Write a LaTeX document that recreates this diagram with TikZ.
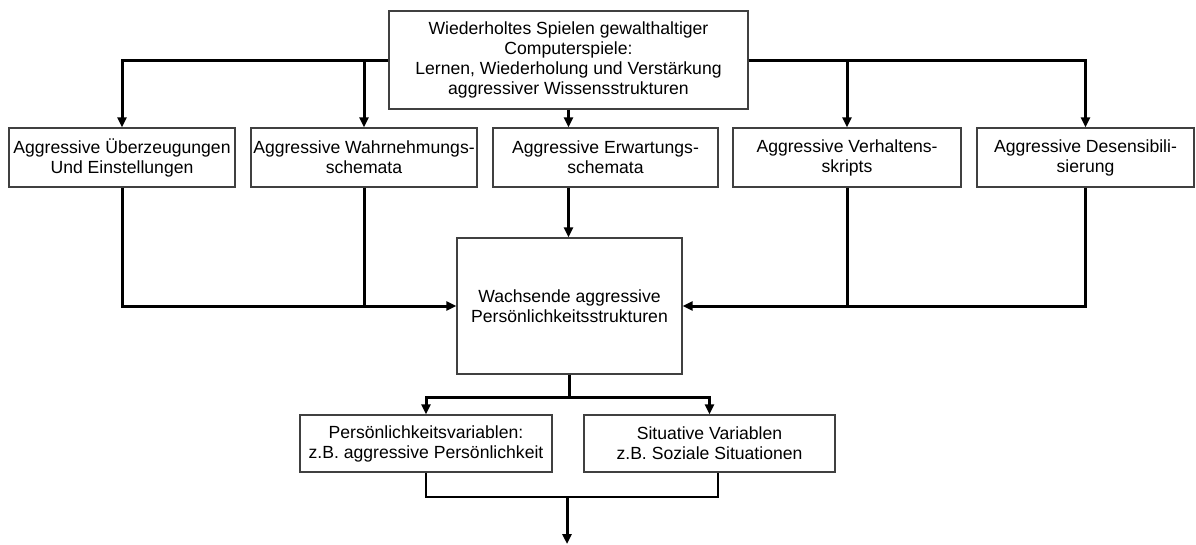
\documentclass[tikz,border=0pt]{standalone}
\usepackage{fontspec}
\setmainfont{Liberation Sans}
\usetikzlibrary{arrows.meta}
\begin{document}
\begin{tikzpicture}[x=1pt,y=-1pt,
  box/.style={draw=black!75, line width=1.2pt, align=center, inner sep=0pt,
    font=\fontsize{17.6}{20}\selectfont, anchor=center},
  conn/.style={line width=3pt},
  arr/.style={conn, -{Triangle[length=10pt,width=9pt]}},
  thinconn/.style={line width=1.2pt}]
\useasboundingbox (0,0) rectangle (1196,544);
\fill[white] (0,0) rectangle (1196,544);

\node[box, minimum width=359pt, minimum height=98pt] (top) at (568.5,60)
  {Wiederholtes Spielen gewalthaltiger\\Computerspiele:\\Lernen, Wiederholung und Verstärkung\\aggressiver Wissensstrukturen};

\node[box, minimum width=226pt, minimum height=59pt] (r1) at (122,157.5)
  {Aggressive Überzeugungen\\Und Einstellungen};
\node[box, minimum width=226pt, minimum height=59pt] (r2) at (364,157.5)
  {Aggressive Wahrnehmungs-\\schemata};
\node[box, minimum width=225pt, minimum height=59pt] (r3) at (605.5,157.5)
  {Aggressive Erwartungs-\\schemata};
\node[box, minimum width=228pt, minimum height=59pt] (r4) at (847,157.5)
  {Aggressive Verhaltens-\\skripts};
\node[box, minimum width=217pt, minimum height=59pt] (r5) at (1085.5,157.5)
  {Aggressive Desensibili-\\sierung};

\node[box, minimum width=225pt, minimum height=136pt] (mid) at (569.5,306)
  {Wachsende aggressive\\Persönlichkeitsstrukturen};

\node[box, minimum width=252pt, minimum height=57pt] (pa) at (426,443.5)
  {Persönlichkeitsvariablen:\\z.B. aggressive Persönlichkeit};
\node[box, minimum width=251pt, minimum height=57pt] (pb) at (709.5,443.5)
  {Situative Variablen\\z.B. Soziale Situationen};

% top fan-out
\draw[arr] (top.west) -| (r1.north);
\draw[arr] (r2.north |- top.west) -- (r2.north);
\draw[arr] (top.south) -- (top.south |- r3.north);
\draw[arr] (top.east) -| (r5.north);
\draw[arr] (r4.north |- top.east) -- (r4.north);

% fan-in to middle box
\draw[arr] (r1.south) |- (mid.west);
\draw[conn] (r2.south) -- (r2.south |- mid.west);
\draw[arr] (r5.south) |- (mid.east);
\draw[conn] (r4.south) -- (r4.south |- mid.east);
\draw[arr] (r3.south -| top.south) -- (mid.north -| top.south);

% split below middle box
\draw[conn] (mid.south) -- ++(0,23) coordinate (sp);
\draw[arr] (sp) -| (pa.north);
\draw[arr] (sp) -| (pb.north);

% join and output
\coordinate (join) at (567,497);
\coordinate (out) at (567,544);
\draw[thinconn] (pa.south) |- ([xshift=8.5pt]pb.south |- join) -- ([xshift=8.5pt]pb.south);
\draw[arr] (join) -- (out);
\end{tikzpicture}
\end{document}
